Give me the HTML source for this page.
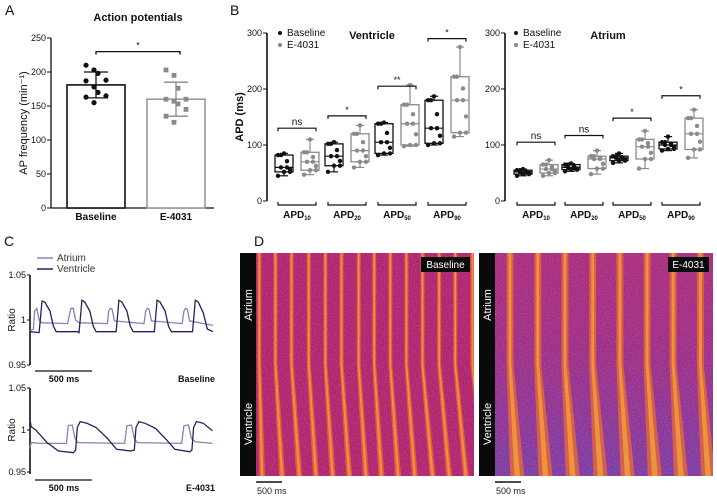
<!DOCTYPE html>
<html><head><meta charset="utf-8"><style>
html,body{margin:0;padding:0;background:#fff}
svg{display:block;font-family:"Liberation Sans",Arial,sans-serif}
</style></head><body>
<svg id="fig" width="717" height="497" viewBox="0 0 717 497" xmlns="http://www.w3.org/2000/svg">
<defs>
<filter id="noise" x="0" y="0" width="100%" height="100%">
<feTurbulence type="fractalNoise" baseFrequency="0.9" numOctaves="2" seed="3" result="t"/>
<feColorMatrix type="matrix" values="0 0 0 0 1  0 0 0 0 0.7  0 0 0 0 0.25  0 0 0 1.6 -0.75"/>
</filter>
<filter id="noise2" x="0" y="0" width="100%" height="100%">
<feTurbulence type="fractalNoise" baseFrequency="0.8" numOctaves="2" seed="7"/>
<feColorMatrix type="matrix" values="0 0 0 0 0.5  0 0 0 0 0.15  0 0 0 0 0.6  0 0 0 1.6 -0.8"/>
</filter>
<linearGradient id="vbgR" x1="0" y1="0" x2="0" y2="1">
<stop offset="0" stop-color="#a92a7e"/><stop offset="0.45" stop-color="#9c2c88"/><stop offset="1" stop-color="#7a3aa6"/>
</linearGradient>
</defs>
<g id="root"></g>
</svg>
<script>
// ---------- Panel A data ----------
const aCats = ["Baseline", "E-4031"];
const aMeans = [181, 160];
const aSD = [19, 25];
const aDotsBase = [210, 203, 198, 188, 187, 178, 170, 165, 163, 155];
const aDotsE = [203, 195, 176, 160, 160, 157, 153, 145, 135, 126];
const aTicks = [0, 50, 100, 150, 200, 250];

// ---------- Panel B data (ventricle) ----------
const bGroups = ["10", "20", "50", "90"];
const vBaseMin = [45, 52, 82, 100];
const vBaseQ1 = [52, 63, 85, 103];
const vBaseMed = [60, 80, 105, 130];
const vBaseQ3 = [82, 102, 138, 180];
const vBaseMax = [85, 105, 140, 187];
const vEMin = [47, 60, 98, 115];
const vEQ1 = [55, 70, 100, 122];
const vEMed = [70, 90, 138, 180];
const vEQ3 = [87, 120, 172, 222];
const vEMax = [110, 135, 207, 275];
const vSig = ["ns", "*", "**", "*"];
const vSigY = [130, 152, 205, 290];
// atrium
const atBaseMin = [45, 53, 68, 90];
const atBaseQ1 = [48, 56, 72, 93];
const atBaseMed = [52, 60, 77, 100];
const atBaseQ3 = [55, 65, 80, 105];
const atBaseMax = [57, 67, 85, 115];
const atEMin = [45, 48, 58, 77];
const atEQ1 = [50, 58, 75, 92];
const atEMed = [57, 75, 97, 120];
const atEQ3 = [65, 80, 110, 148];
const atEMax = [73, 90, 125, 163];
const atSig = ["ns", "ns", "*", "*"];
const atSigY = [105, 117, 148, 188];
const bTicks = [0, 100, 200, 300];

// ---------- Panel C data (time ms, ratio) ----------
const cBaseVentT = [0,80,90,105,130,175,205,230,420,430,440,455,480,525,555,580,755,765,780,805,850,880,905,1090,1100,1115,1140,1185,1215,1240,1425,1435,1450,1475,1520,1555,1605];
const cBaseVentV = [0.987,0.986,1.000,1.021,1.020,1.010,0.993,0.987,0.987,0.986,1.000,1.022,1.020,1.010,0.993,0.987,0.987,1.000,1.022,1.020,1.010,0.993,0.987,0.987,1.000,1.022,1.020,1.010,0.993,0.987,0.987,1.000,1.022,1.020,1.008,0.990,0.987];
const cBaseAtrT = [0,30,40,60,80,100,330,345,360,380,400,430,680,690,705,720,740,1000,1015,1030,1045,1065,1335,1350,1365,1380,1400,1605];
const cBaseAtrV = [0.988,0.990,1.010,1.013,1.000,0.997,0.996,1.005,1.013,1.013,1.000,0.997,0.996,1.010,1.013,1.012,0.999,0.996,1.010,1.013,1.012,0.999,0.996,1.010,1.013,1.012,0.999,0.994];
const cEVentT = [0,10,50,150,250,380,400,415,440,500,580,680,760,880,915,930,955,1010,1100,1200,1270,1400,1420,1435,1460,1520,1600];
const cEVentV = [1.013,1.004,1.000,0.985,0.975,0.973,0.976,1.003,1.010,1.008,1.003,0.990,0.977,0.975,0.976,1.003,1.010,1.008,1.002,0.988,0.977,0.974,0.976,1.003,1.010,1.008,0.999];
const cEAtrT = [0,10,100,320,335,370,395,420,830,850,890,915,940,1330,1350,1390,1415,1450,1600];
const cEAtrV = [0.978,0.985,0.984,0.984,1.005,1.006,0.990,0.985,0.984,1.005,1.006,0.990,0.985,0.984,1.005,1.006,0.990,0.986,0.984];
const cTicks = [0.95, 1, 1.05];

// ---------- Panel D data (stripe centres in ms, top / bottom) ----------
const dBaseTop = [30, 175, 320, 475, 625, 770, 925, 1065, 1210, 1355, 1500, 1650, 1795, 1950];
const dBaseBot = [55, 235, 390, 540, 690, 840, 990, 1130, 1280, 1430, 1590, 1740, 1890, 2050];
const dETop = [135, 385, 630, 880, 1125, 1370, 1605, 1850];
const dEBot = [200, 455, 700, 950, 1195, 1440, 1675, 1920];

const NS = "http://www.w3.org/2000/svg";
const root = document.getElementById("root");
function mk(tag, attrs, parent) {
  const e = document.createElementNS(NS, tag);
  for (const k in attrs) e.setAttribute(k, attrs[k]);
  (parent || root).appendChild(e);
  return e;
}
function txt(x, y, s, size, opts, parent) {
  const e = mk("text", Object.assign({x: x, y: y, "font-size": size, fill: "#111"}, opts || {}), parent);
  e.textContent = s;
  return e;
}

// ===== Panel letters =====
[["A",5,15],["B",230,15],["C",4,246],["D",254,246]].forEach(p => {
  const t = txt(p[1], p[2], p[0], 14);
  
  
});

// ===== Panel A =====
const gA = mk("g", {});


const aY = v => 208 - v * 0.68;
const aX = [96, 176];
let t = txt(138, 21, "Action potentials", 11, {"text-anchor":"middle","font-weight":"bold"}, gA);
 
t = txt(0, 0, "AP frequency (min⁻¹)", 11, {"text-anchor":"middle", transform:"translate(27,123) rotate(-90)"}, gA);
 
mk("line", {x1:51,y1:aY(250),x2:51,y2:208,stroke:"#111","stroke-width":1.3}, gA);
mk("line", {x1:51,y1:208,x2:214,y2:208,stroke:"#111","stroke-width":1.3}, gA);
aTicks.forEach(v => {
  mk("line", {x1:47,y1:aY(v),x2:51,y2:aY(v),stroke:"#111"}, gA);
  const e = txt(46, aY(v)+3, String(v), 9, {"text-anchor":"end"}, gA);
   
});
aCats.forEach((c, i) => {
  const col = i === 0 ? "#111" : "#999";
  const b = mk("rect", {x:aX[i]-29,y:aY(aMeans[i]),width:58,height:208-aY(aMeans[i]),fill:"#fff",stroke:col,"stroke-width":1.6}, gA);
   
  const ec = i === 0 ? "#111" : "#888";
  mk("line",{x1:aX[i],y1:aY(aMeans[i]-aSD[i]),x2:aX[i],y2:aY(aMeans[i]+aSD[i]),stroke:ec,"stroke-width":1.3},gA);
  [aMeans[i]-aSD[i], aMeans[i]+aSD[i]].forEach(v => mk("line",{x1:aX[i]-12,y1:aY(v),x2:aX[i]+12,y2:aY(v),stroke:ec,"stroke-width":1.3},gA));
  const dots = i === 0 ? aDotsBase : aDotsE;
  dots.forEach((v, k) => {
    const dx = ((k % 4) - 1.5) * 6 + (k % 2 ? 1 : -1);
    let d;
    if (i === 0) d = mk("circle",{cx:aX[i]+dx,cy:aY(v),r:2.6,fill:"#111"},gA);
    else d = mk("rect",{x:aX[i]+dx-2.4,y:aY(v)-2.4,width:4.8,height:4.8,fill:"#8a8a8a"},gA);
     
  });
  const l = txt(aX[i], 220, c, 10, {"text-anchor":"middle","font-weight":"bold"}, gA);
   
});
mk("path",{d:`M96 ${aY(230)+3} V${aY(230)} H180 V${aY(230)+3}`,fill:"none",stroke:"#111","stroke-width":1.3},gA);
t = txt(138, aY(230)-3, "*", 9, {"text-anchor":"middle"}, gA);
 

// ===== Panel B =====
function boxPanel(name, axX, centers, stats, sig, sigY, title, titleX, legX) {
  const g = mk("g", {});
  
  
  const y = v => 201 - v * 0.56;
  mk("line",{x1:axX,y1:y(300),x2:axX,y2:201,stroke:"#111","stroke-width":1.6},g);
  bTicks.forEach(v => {
    mk("line",{x1:axX-4,y1:y(v),x2:axX,y2:y(v),stroke:"#111"},g);
    const e = txt(axX-5, y(v)+3, String(v), 9, {"text-anchor":"end"}, g);
     
  });
  let e = txt(titleX, 39, title, 11, {"text-anchor":"middle","font-weight":"bold"}, g);
   
  [["Baseline","#111",36],["E-4031","#888",48]].forEach(L => {
    const lg = mk("g",{},g);
     
    mk("circle",{cx:legX,cy:L[2]-3,r:2,fill:L[1]},lg);
    txt(legX+7, L[2], L[0], 10, {}, lg);
  });
  bGroups.forEach((gName, i) => {
    const c = centers[i];
    [0,1].forEach(s => {
      const st = stats[s];
      const col = s === 0 ? "#111" : "#8a8a8a";
      const bx = c + (s === 0 ? -13 : 13);
      const bg = mk("g",{},g);
      
      
      mk("line",{x1:bx,y1:y(st[0][i]),x2:bx,y2:y(st[4][i]),stroke:col,"stroke-width":1.2},bg);
      [st[0][i], st[4][i]].forEach(v => mk("line",{x1:bx-4,y1:y(v),x2:bx+4,y2:y(v),stroke:col,"stroke-width":1.2},bg));
      mk("rect",{x:bx-9,y:y(st[3][i]),width:18,height:y(st[1][i])-y(st[3][i]),fill:"#fff",stroke:col,"stroke-width":1.3},bg);
      mk("line",{x1:bx-9,y1:y(st[2][i]),x2:bx+9,y2:y(st[2][i]),stroke:col,"stroke-width":1.2},bg);
      const pts = [st[0][i], st[1][i], (st[1][i]+st[2][i])/2, st[2][i], (st[2][i]+st[3][i])/2, st[3][i], st[4][i], st[1][i], st[3][i], st[2][i]];
      pts.forEach((v, k) => {
        const d = mk("circle",{cx:bx+((k*7)%5-2)*3,cy:y(v),r:2.2,fill:col},bg);
         
      });
    });
    mk("path",{d:`M${c-19} ${y(sigY[i])+3} V${y(sigY[i])} H${c+19} V${y(sigY[i])+3}`,fill:"none",stroke:"#111","stroke-width":1.2},g);
    e = txt(c, y(sigY[i])-3, sig[i], sig[i] === "ns" ? 10 : 9, {"text-anchor":"middle"}, g);
     
    mk("path",{d:`M${c-19} 202 V205 H${c+19} V202`,fill:"none",stroke:"#111","stroke-width":1.2},g);
    const lab = mk("text",{x:c,y:218,"font-size":10,"font-weight":"bold","text-anchor":"middle",fill:"#111"},g);
     
    lab.appendChild(document.createTextNode("APD"));
    const sub = mk("tspan",{"font-size":6,dy:2},lab); sub.textContent = gName;
  });
}
let yt = txt(0,0,"APD (ms)",11,{"text-anchor":"middle","font-weight":"bold",transform:"translate(243,117) rotate(-90)"});
 
boxPanel("ventricle-boxplot", 267, [297,347,397,447],
  [[vBaseMin,vBaseQ1,vBaseMed,vBaseQ3,vBaseMax],[vEMin,vEQ1,vEMed,vEQ3,vEMax]], vSig, vSigY, "Ventricle", 372, 280);
boxPanel("atrium-boxplot", 505, [536,584,632,681],
  [[atBaseMin,atBaseQ1,atBaseMed,atBaseQ3,atBaseMax],[atEMin,atEQ1,atEMed,atEQ3,atEMax]], atSig, atSigY, "Atrium", 608, 516);

// ===== Panel C =====
function traceChart(name, top, mid, bot, sets, label) {
  const g = mk("g",{});
   
  const x = ms => 30 + ms * 0.114;
  const y = v => mid - (v - 1) / 0.05 * (mid - top);
  mk("line",{x1:30,y1:top,x2:30,y2:bot,stroke:"#111","stroke-width":1.6},g);
  cTicks.forEach(v => {
    mk("line",{x1:27,y1:y(v),x2:30,y2:y(v),stroke:"#111"},g);
    const e = txt(26, y(v)+3, String(v), 9, {"text-anchor":"end"}, g);
     
  });
  let e = txt(0,0,"Ratio",10,{"text-anchor":"middle",transform:`translate(15,${mid}) rotate(-90)`},g);
   
  sets.forEach(s => {
    const d = s.t.map((tm, k) => (k ? "L" : "M") + x(tm).toFixed(1) + " " + y(s.v[k]).toFixed(1)).join(" ");
    const p = mk("path",{d:d,fill:"none",stroke:s.c,"stroke-width":1.3},g);
     
  });
  mk("line",{x1:35,y1:bot+6,x2:x(500)+5,y2:bot+6,stroke:"#111","stroke-width":1.3},g);
  e = txt(64, bot+17, "500 ms", 9, {"text-anchor":"middle","font-weight":"bold"}, g);
   
  e = txt(215, bot+17, label, 9, {"text-anchor":"end","font-weight":"bold"}, g);
   
}
traceChart("trace-baseline", 275, 320, 365, [
  {t:cBaseAtrT, v:cBaseAtrV, c:"#8d7fb3", n:"atrium-trace"},
  {t:cBaseVentT, v:cBaseVentV, c:"#1f235e", n:"ventricle-trace"}], "Baseline");
traceChart("trace-e4031", 388, 430, 474, [
  {t:cEAtrT, v:cEAtrV, c:"#8d7fb3", n:"atrium-trace"},
  {t:cEVentT, v:cEVentV, c:"#1f235e", n:"ventricle-trace"}], "E-4031");
[["Atrium","#8d7fb3",261],["Ventricle","#1f235e",272]].forEach(L => {
  const lg = mk("g",{});
   
  mk("line",{x1:37,y1:L[2]-3,x2:53,y2:L[2]-3,stroke:L[1],"stroke-width":1.5},lg);
  txt(57, L[2], L[0], 10, {fill:"#333"}, lg);
});

// ===== Panel D =====
function kymo(name, x0, x1, bg, tops, bots, wTop, wBot, label, labX) {
  const g = mk("g",{});
   
  const y0 = 253, y1 = 476, ix = x0 + 16;
  const sx = ms => ix + ms * 0.111;
  mk("rect",{x:ix,y:y0,width:x1-ix,height:y1-y0,fill:bg},g);
  const clip = mk("clipPath",{id:"clip"+name},g);
  mk("rect",{x:ix,y:y0,width:x1-ix,height:y1-y0},clip);
  const sg = mk("g",{"clip-path":`url(#clip${name})`},g);
  tops.forEach((tt, i) => {
    const a = sx(tt), b = sx(bots[i]);
    const ym = y0 + (y1 - y0) * 0.5;
    const p = mk("path",{d:`M${a-wTop/2} ${y0} L${a+wTop/2} ${y0} L${a+wTop/2} ${ym} L${b+wBot/2} ${y1} L${b-wBot/2} ${y1} L${a-wTop/2} ${ym} Z`,fill:"#e8642e",opacity:0.8},sg);
     
    mk("path",{d:`M${a-wTop/5} ${y0} L${a+wTop/5} ${y0} L${a+wTop/5} ${ym} L${b+wBot/5} ${y1} L${b-wBot/5} ${y1} L${a-wTop/5} ${ym} Z`,fill:"#f7a52e",opacity:0.75},sg);
  });
  mk("rect",{x:ix,y:y0,width:x1-ix,height:y1-y0,filter:"url(#noise)",opacity:0.4},sg);
  mk("rect",{x:ix,y:y0,width:x1-ix,height:y1-y0,filter:"url(#noise2)",opacity:0.55},sg);
  mk("rect",{x:x0,y:y0,width:16,height:y1-y0,fill:"#0a0a0a"},g);
  let e = txt(0,0,"Atrium",11,{fill:"#fff","text-anchor":"middle",transform:`translate(${x0+12},${y0+52}) rotate(-90)`},g);
   
  e = txt(0,0,"Ventricle",11,{fill:"#fff","text-anchor":"middle",transform:`translate(${x0+12},${y0+171}) rotate(-90)`},g);
   
  mk("rect",{x:labX,y:y0+4,width:x1-4-labX,height:15,fill:"#0a0a0a"},g);
  e = txt((labX+x1-4)/2, y0+15, label, 10, {fill:"#fff","text-anchor":"middle"}, g);
   
  mk("line",{x1:ix,y1:482,x2:ix+26,y2:482,stroke:"#111","stroke-width":1.4},g);
  e = txt(ix+1, 494, "500 ms", 9, {fill:"#222"}, g);
   
}
kymo("kymograph-baseline", 240, 474, "#b0216f", dBaseTop, dBaseBot, 4, 6, "Baseline", 421);
kymo("kymograph-e4031", 479, 713, "url(#vbgR)", dETop, dEBot, 7, 14, "E-4031", 668);
</script>
</body></html>
